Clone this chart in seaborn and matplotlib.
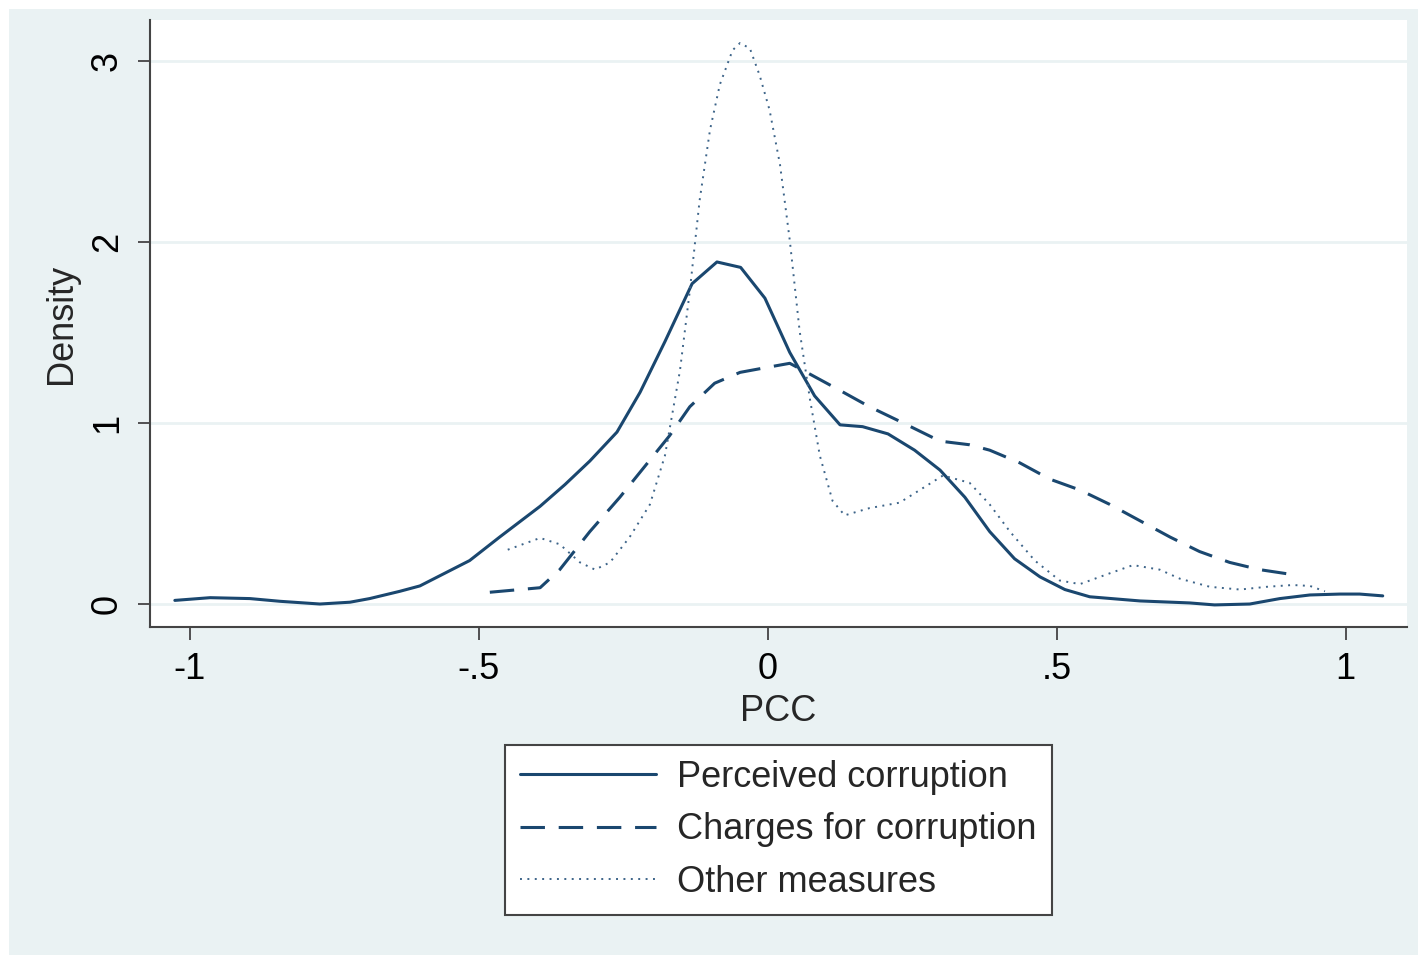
import matplotlib
matplotlib.use('Agg')
import matplotlib.pyplot as plt
from matplotlib.patches import Rectangle
import seaborn as sns
import pandas as pd

# ---- data (kernel density estimates of PCC) ----
perceived_x = [-1.026, -0.965, -0.896, -0.844, -0.775, -0.723, -0.689, -0.637,
               -0.602, -0.559, -0.516, -0.464, -0.394, -0.351, -0.308, -0.261,
               -0.221, -0.178, -0.131, -0.088, -0.047, -0.005, 0.038, 0.081,
               0.125, 0.164, 0.208, 0.254, 0.298, 0.341, 0.384, 0.427, 0.471,
               0.514, 0.557, 0.644, 0.730, 0.773, 0.834, 0.886, 0.938, 0.990,
               1.024, 1.064]
perceived_y = [0.02, 0.035, 0.03, 0.015, 0.0, 0.01, 0.03, 0.07,
               0.10, 0.17, 0.24, 0.37, 0.54, 0.66, 0.79, 0.95,
               1.17, 1.45, 1.77, 1.89, 1.86, 1.69, 1.39, 1.15,
               0.99, 0.98, 0.94, 0.85, 0.74, 0.59, 0.40, 0.25, 0.15,
               0.08, 0.04, 0.017, 0.006, -0.005, 0.0, 0.03, 0.05, 0.055,
               0.055, 0.045]

charges_x = [-0.481, -0.394, -0.360, -0.308, -0.256, -0.213, -0.170, -0.135,
             -0.092, -0.048, 0.003, 0.038, 0.073, 0.125, 0.176, 0.228, 0.298,
             0.349, 0.384, 0.436, 0.488, 0.540, 0.592, 0.644, 0.696, 0.747,
             0.799, 0.851, 0.903]
charges_y = [0.065, 0.09, 0.19, 0.40, 0.59, 0.76, 0.93, 1.09,
             1.22, 1.28, 1.31, 1.33, 1.27, 1.18, 1.09, 1.01, 0.90,
             0.88, 0.85, 0.78, 0.69, 0.63, 0.55, 0.46, 0.37, 0.29,
             0.23, 0.19, 0.165]

other_x = [-0.450, -0.394, -0.360, -0.325, -0.299, -0.273, -0.239, -0.204,
           -0.178, -0.152, -0.135, -0.118, -0.100, -0.083, -0.061, -0.048,
           -0.031, -0.014, 0.003, 0.021, 0.038, 0.055, 0.073, 0.090, 0.112,
           0.133, 0.176, 0.228, 0.263, 0.303, 0.349, 0.384, 0.419, 0.462,
           0.505, 0.540, 0.592, 0.632, 0.678, 0.713, 0.765, 0.817, 0.863,
           0.908, 0.938, 0.964]
other_y = [0.30, 0.365, 0.33, 0.23, 0.19, 0.23, 0.37, 0.55,
           0.82, 1.29, 1.73, 2.23, 2.62, 2.87, 3.06, 3.10,
           3.07, 2.92, 2.73, 2.43, 2.01, 1.51, 1.13, 0.82, 0.57,
           0.49, 0.53, 0.56, 0.63, 0.71, 0.67, 0.55, 0.40, 0.24,
           0.13, 0.11, 0.17, 0.215, 0.19, 0.14, 0.095, 0.08, 0.095,
           0.105, 0.10, 0.07]

labels = ['Perceived corruption', 'Charges for corruption', 'Other measures']
x_ticks = [-1, -0.5, 0, 0.5, 1]
x_ticklabels = ['-1', '-.5', '0', '.5', '1']
y_ticks = [0, 1, 2, 3]

df = pd.concat([
    pd.DataFrame({'PCC': perceived_x, 'Density': perceived_y, 'measure': labels[0]}),
    pd.DataFrame({'PCC': charges_x, 'Density': charges_y, 'measure': labels[1]}),
    pd.DataFrame({'PCC': other_x, 'Density': other_y, 'measure': labels[2]}),
])

# ---- styling (Stata s2color look) ----
sns.set_style('white')
plt.rcParams['font.family'] = ['Liberation Sans', 'DejaVu Sans']
navy = '#1a476f'
bg = '#eaf2f3'
fs = 26

fig = plt.figure(figsize=(14.22, 9.58), dpi=100, facecolor='white')
fig.patches.append(Rectangle((9 / 1422, 3 / 958), 1409 / 1422, 946 / 958,
                             transform=fig.transFigure, facecolor=bg,
                             edgecolor='none', zorder=-10))
ax = fig.add_axes([150 / 1422, 1 - 627 / 958, (1407 - 150) / 1422, (627 - 20) / 958])
ax.set_facecolor('white')

styles = {
    labels[0]: dict(linestyle='-', linewidth=2.2, color=navy),
    labels[1]: dict(linestyle=(0, (8, 4.5)), linewidth=2.2, color=navy),
    labels[2]: dict(linestyle=(0, (1, 2.8)), linewidth=1.4, color='#3d6489'),
}
for name in labels:
    sub = df[df['measure'] == name]
    sns.lineplot(data=sub, x='PCC', y='Density', ax=ax,
                 label=name, errorbar=None, **styles[name])

ax.set_xlim(-1.069, 1.106)
ax.set_ylim(-0.127, 3.227)
ax.set_xticks(x_ticks)
ax.set_xticklabels(x_ticklabels)
ax.set_yticks(y_ticks)
ax.set_yticklabels([str(t) for t in y_ticks], rotation=90, va='center')
ax.yaxis.grid(True, color=bg, linewidth=2)
ax.set_axisbelow(True)

for side in ['top', 'right']:
    ax.spines[side].set_visible(False)
for side in ['left', 'bottom']:
    ax.spines[side].set_color('#444444')
    ax.spines[side].set_linewidth(1.5)
ax.tick_params(axis='both', direction='out', length=9, width=1.3,
               color='#444444', labelsize=fs, labelcolor='black', pad=9,
               left=True, bottom=True)
ax.set_xlabel('PCC', fontsize=fs, labelpad=5)
ax.set_ylabel('Density', fontsize=fs, labelpad=8)

leg = ax.legend(loc='upper center', bbox_to_anchor=(0.5, -0.194),
                borderaxespad=0, fontsize=fs, frameon=True, fancybox=False,
                handlelength=3.75, handletextpad=0.6, labelspacing=0.48,
                borderpad=0.42)
leg.get_frame().set_edgecolor('#444444')
leg.get_frame().set_linewidth(1.5)
leg.get_frame().set_facecolor('white')
leg.get_frame().set_alpha(1)

fig.savefig('out.png', dpi=100, facecolor=fig.get_facecolor())
